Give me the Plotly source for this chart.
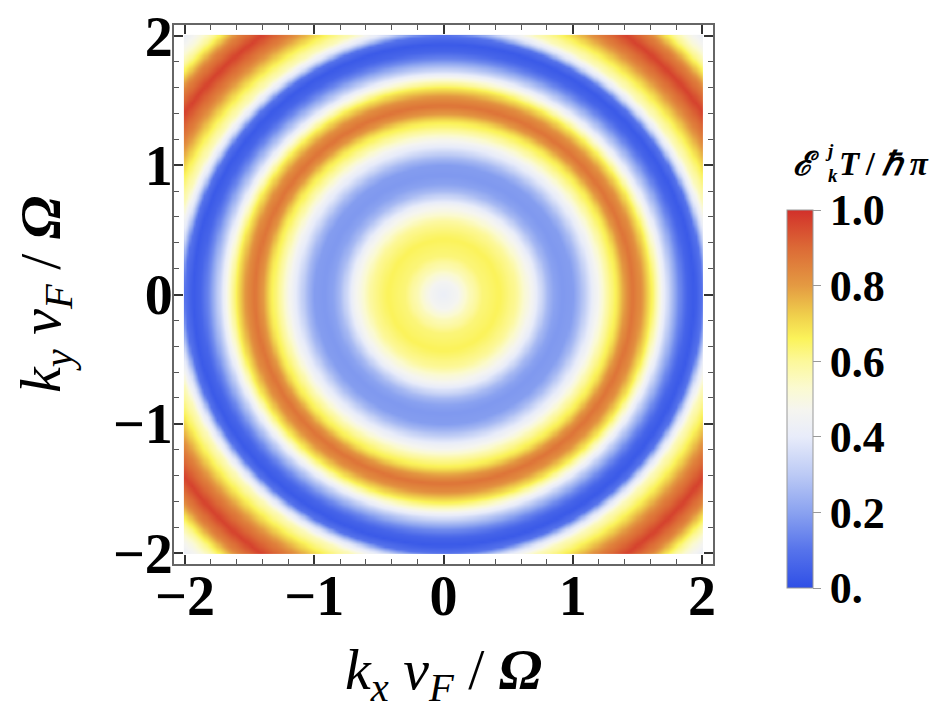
import numpy as np
import plotly.graph_objects as go

# radial profile of the quasi-energy (|k| v_F / Omega -> value)
radius = [0.00, 0.10, 0.20, 0.30, 0.43, 0.56, 0.69, 0.80, 0.86, 0.92, 1.00, 1.06, 1.12,
          1.18, 1.26, 1.34, 1.41, 1.46, 1.52, 1.60, 1.68, 1.75, 1.82, 1.88, 1.94, 2.00,
          2.05, 2.12, 2.20, 2.33, 2.45, 2.56, 2.67, 2.75, 2.83]
energy = [0.42, 0.46, 0.56, 0.63, 0.66, 0.60, 0.45, 0.26, 0.20, 0.18, 0.19, 0.26, 0.36,
          0.45, 0.58, 0.68, 0.82, 0.88, 0.83, 0.68, 0.48, 0.30, 0.15, 0.06, 0.03, 0.10,
          0.35, 0.55, 0.65, 0.85, 0.97, 0.85, 0.62, 0.50, 0.42]

k_axis = np.linspace(-2, 2, 241)
x_ticks = [-2, -1, 0, 1, 2]
cb_ticks = [0.0, 0.2, 0.4, 0.6, 0.8, 1.0]
cb_labels = ["0.", "0.2", "0.4", "0.6", "0.8", "1.0"]

KX, KY = np.meshgrid(k_axis, k_axis)
Z = np.interp(np.sqrt(KX**2 + KY**2), radius, energy)

colorscale = [
    [0.00, "#2f4fe6"], [0.10, "#5673eb"], [0.20, "#8aa2f0"], [0.30, "#bccaf5"],
    [0.40, "#e8ecfa"], [0.47, "#f5f5f0"], [0.53, "#fbfad0"], [0.60, "#fcf89a"],
    [0.66, "#fbf35a"], [0.72, "#f0d04c"], [0.80, "#e49a42"], [0.90, "#dc6a36"],
    [1.00, "#d2302a"],
]

FONT = "Liberation Serif"

# page has an 8 px body margin; all pixel positions below are page pixels
OFF = 8
W, H = 938, 728
L, T = 174 - OFF, 25 - OFF
pw = ph = 539
R = W - L - pw
B = H - T - ph


def px(xp):
    return (xp - OFF - L) / pw


def py(yp):
    return (T + ph - (yp - OFF)) / ph


fig = go.Figure(go.Heatmap(
    x=k_axis, y=k_axis, z=Z, zmin=0, zmax=1, zsmooth="best",
    colorscale=colorscale,
    colorbar=dict(
        thickness=26, len=378 / ph, lenmode="fraction",
        x=px(787), xanchor="left", xpad=0,
        y=py(588), yanchor="bottom", ypad=0,
        outlinewidth=1, outlinecolor="#999999",
        tickmode="array", tickvals=cb_ticks, ticktext=cb_labels,
        ticks="outside", ticklen=8, tickcolor="#999999", tickwidth=1,
        tickfont=dict(family=FONT, size=44, color="black", weight="bold"),
    ),
))

axis_common = dict(
    range=[-2.085, 2.085], showgrid=False, zeroline=False, automargin=False,
    showline=True, linecolor="#666666", linewidth=2, mirror="allticks",
    ticks="inside", ticklen=9, tickwidth=1.5, tickcolor="#333333",
    tickmode="array", tickvals=x_ticks, ticklabeloverflow="allow",
    minor=dict(ticks="inside", dtick=0.2, ticklen=5, tickcolor="#555555", tickwidth=1),
    tickfont=dict(family=FONT, size=56, color="black", weight="bold"),
)

fig.update_xaxes(**axis_common, ticklabelstandoff=-18,
                 title=dict(text="<i>k<sub>x</sub> v<sub>F</sub></i> / <b><i>Ω</i></b>",
                            font=dict(family=FONT, size=58, color="black"), standoff=22))
fig.update_yaxes(**axis_common, ticklabelstandoff=-12,
                 title=dict(text="<i>k<sub>y</sub> v<sub>F</sub></i> / <b><i>Ω</i></b>",
                            font=dict(family=FONT, size=58, color="black"), standoff=54))

tfont = dict(family=FONT, size=33, color="black", weight="bold")
sfont = dict(family=FONT, size=19, color="black", weight="bold")
annotations = [
    dict(x=px(792), y=py(164), text="<i>ℰ</i>", font=tfont),
    dict(x=px(824), y=py(163), text="<i>j</i><br><i>k</i>", font=sfont, align="left"),
    dict(x=px(838), y=py(164), text="<i>T</i>\u2009/\u2009<i>ℏ π</i>", font=tfont),
]
for a in annotations:
    a.update(xref="paper", yref="paper", xanchor="left", yanchor="middle",
             showarrow=False, borderpad=0)

fig.update_layout(
    width=W, height=H,
    margin=dict(l=L, r=R, t=T, b=B),
    paper_bgcolor="white", plot_bgcolor="white",
    annotations=annotations,
)

fig.write_html("out.html")
